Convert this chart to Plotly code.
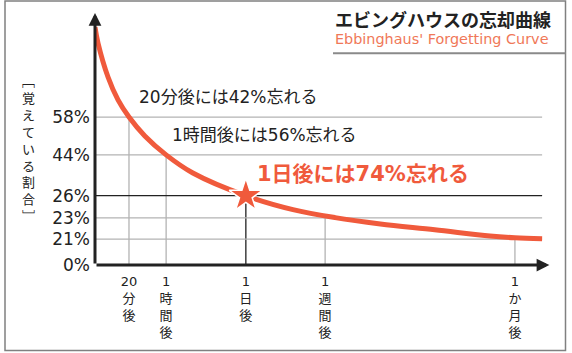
import re
import plotly.graph_objects as go

# ---------------- data ----------------
time_labels = ["20分後", "1時間後", "1日後", "1週間後", "1か月後"]
time_pos = [7.5, 15.7, 33.3, 50.8, 92.7]          # schematic position on time axis (0-100)
retention = [58, 44, 26, 23, 21]                  # % remembered
retention_pos = [58.7, 43.7, 27.5, 18.7, 10.3]    # schematic position on vertical axis (0-100)

curve_x = [0, 0.66, 2.87, 5.08, 7.5, 11.0, 15.7, 21.6, 33.3, 43.7, 53.0, 63.0, 75.0, 87.2, 92.7, 98.7]
curve_y = [94.4, 88.1, 74.6, 65.5, 58.7, 51.2, 43.7, 36.5, 27.5, 22.0, 18.8, 16.3, 14.0, 11.5, 10.8, 10.4]

x_end = 98.7
highlight = 2  # index of "1日後"

title = "エビングハウスの忘却曲線"
subtitle = "Ebbinghaus' Forgetting Curve"
ylabel_chars = ["﹇", "覚", "え", "て", "い", "る", "割", "合", "﹈"]

# ---------------- styles ----------------
RED = "#F05A3C"
GRAY = "#b3b3b3"
DARK = "#222222"
FONT = "DejaVu Sans, Noto Sans CJK JP, sans-serif"
CJK = "Noto Sans CJK JP, sans-serif"

W, H = 572, 353
ML, MR, MT, MB = 95, 24, 13, 88
PW, PH = W - ML - MR, H - MT - MB


def px_x(px):
    return (px - ML) / PW


def px_y(py):
    return (H - MB - py) / PH


fig = go.Figure()

# guide lines
for i, (tx, ry) in enumerate(zip(time_pos, retention_pos)):
    col = DARK if i == highlight else GRAY
    fig.add_trace(go.Scatter(x=[0, x_end], y=[ry, ry], mode="lines",
                             line=dict(color=col, width=1.3), hoverinfo="skip"))
    fig.add_trace(go.Scatter(x=[tx, tx], y=[0, ry], mode="lines",
                             line=dict(color=col, width=1.3), hoverinfo="skip"))

# curve
fig.add_trace(go.Scatter(x=curve_x, y=curve_y, mode="lines",
                         line=dict(color=RED, width=5, shape="spline", smoothing=1.0),
                         hoverinfo="skip", cliponaxis=False))

# star
fig.add_trace(go.Scatter(x=[time_pos[highlight]], y=[retention_pos[highlight]], mode="markers",
                         marker=dict(symbol="star", size=25, color=RED,
                                     line=dict(color="white", width=1.5)),
                         hoverinfo="skip", cliponaxis=False))


def vertical_label(s):
    m = re.match(r"(\d+)(.*)", s)
    num, rest = m.group(1), m.group(2)
    return "<br>".join([num] + list(rest))


fig.update_layout(
    width=W, height=H,
    margin=dict(l=ML, r=MR, t=MT, b=MB, pad=0),
    paper_bgcolor="white", plot_bgcolor="white",
    showlegend=False,
    xaxis=dict(range=[0, 100], showgrid=False, zeroline=False, showline=False,
               tickvals=time_pos, ticktext=[vertical_label(s) for s in time_labels],
               ticks="", ticklabelstandoff=7,
               tickfont=dict(family=FONT, size=13, color=DARK), fixedrange=True),
    yaxis=dict(range=[0, 100], showgrid=False, zeroline=False, showline=False,
               tickvals=[0] + retention_pos, ticktext=["0%"] + [f"{r}%" for r in retention],
               ticks="", ticklabelstandoff=4,
               tickfont=dict(family=FONT, size=17, color=DARK), fixedrange=True),
)

ann = []
# axes with arrows
ann.append(dict(x=100.3, y=0, ax=0, ay=0, xref="x", yref="y", axref="x", ayref="y",
                text="", showarrow=True, arrowhead=2, arrowsize=0.85, arrowwidth=3,
                arrowcolor=DARK))
ann.append(dict(x=0, y=100, ax=0, ay=0, xref="x", yref="y", axref="x", ayref="y",
                text="", showarrow=True, arrowhead=2, arrowsize=0.85, arrowwidth=3,
                arrowcolor=DARK))

# callouts
ann.append(dict(x=px_x(137), y=px_y(97), xref="paper", yref="paper", xanchor="left", yanchor="middle",
                text=f"{time_labels[0]}には{100 - retention[0]}%忘れる", showarrow=False,
                font=dict(family=FONT, size=17, color=DARK)))
ann.append(dict(x=px_x(170), y=px_y(135), xref="paper", yref="paper", xanchor="left", yanchor="middle",
                text=f"{time_labels[1]}には{100 - retention[1]}%忘れる", showarrow=False,
                font=dict(family=FONT, size=17, color=DARK)))
ann.append(dict(x=px_x(255), y=px_y(174), xref="paper", yref="paper", xanchor="left", yanchor="middle",
                text=f"<b>{time_labels[2]}には{100 - retention[2]}%忘れる</b>", showarrow=False,
                font=dict(family=FONT, size=21, color=RED)))

# title
ann.append(dict(x=px_x(333), y=px_y(19), xref="paper", yref="paper", xanchor="left", yanchor="middle",
                text=f"<b>{title}</b>", showarrow=False,
                font=dict(family=CJK, size=18, color=DARK)))
ann.append(dict(x=px_x(333), y=px_y(39), xref="paper", yref="paper", xanchor="left", yanchor="middle",
                text=subtitle, showarrow=False,
                font=dict(family=FONT, size=14.4, color="#F07858")))

# vertical y-axis title
ann.append(dict(x=px_x(28), y=px_y(149), xref="paper", yref="paper", xanchor="center", yanchor="middle",
                text="<br>".join(ylabel_chars),
                showarrow=False, font=dict(family=FONT, size=13, color=DARK)))

fig.update_layout(annotations=ann)

# frame and title underline
fig.add_shape(type="rect", xref="paper", yref="paper",
              x0=px_x(5), x1=px_x(565.5), y0=px_y(350.5), y1=px_y(1),
              line=dict(color="#808080", width=1.5), fillcolor="rgba(0,0,0,0)", layer="below")
fig.add_shape(type="line", xref="paper", yref="paper",
              x0=px_x(333), x1=px_x(565.5), y0=px_y(53.3), y1=px_y(53.3),
              line=dict(color="#8a8a8a", width=2))

fig.write_html("out.html", config={"displayModeBar": False})
